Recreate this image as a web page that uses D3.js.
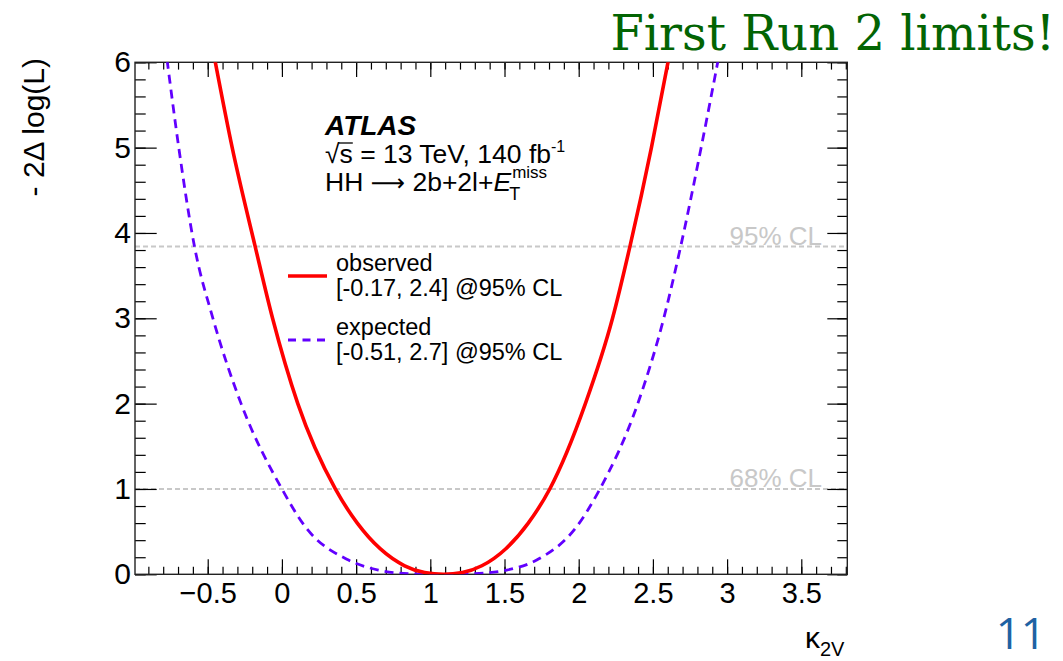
<!DOCTYPE html>
<html>
<head>
<meta charset="utf-8">
<script src="https://cdn.jsdelivr.net/npm/d3@7"></script>
<style>
  body { margin: 0; background: #fff; }
  svg { display: block; font-family: "Liberation Sans", Arial, sans-serif; }
</style>
</head>
<body>
<svg id="chart" width="1063" height="661"></svg>
<script>
// -2 delta log(L) scans vs kappa_2V
const obsKappa = [-0.452, -0.335, -0.18, -0.063, 0.107, 0.36, 0.508, 0.662, 0.827, 0.962, 1.09, 1.216, 1.347, 1.509, 1.66, 1.805, 2.045, 2.228, 2.345, 2.49, 2.605];
const obsNll   = [6.03, 5.0, 3.84, 3.0, 2.0, 1.0, 0.6, 0.3, 0.1, 0.02, 0.0, 0.02, 0.1, 0.3, 0.6, 1.0, 2.0, 3.0, 3.84, 5.0, 6.03];
const expKappa = [-0.774, -0.695, -0.589, -0.465, -0.275, 0.0, 0.157, 0.449, 0.65, 0.85, 1.07, 1.29, 1.515, 1.717, 1.986, 2.143, 2.398, 2.573, 2.687, 2.825, 2.94];
const expNll   = [6.03, 5.0, 3.84, 3.0, 2.0, 1.0, 0.558, 0.167, 0.05, 0.008, 0.0, 0.008, 0.05, 0.167, 0.558, 1.0, 2.0, 3.0, 3.84, 5.0, 6.03];

const xMajorTicks = [-0.5, 0, 0.5, 1, 1.5, 2, 2.5, 3, 3.5];
const xMinorTicks = d3.range(-9, 39).map(i => i / 10);
const yMajorTicks = [0, 1, 2, 3, 4, 5, 6];
const yMinorTicks = d3.range(0, 31).map(i => i / 5);

const clLevels = [1, 3.84];
const clLabels = ['68% CL', '95% CL'];
const legendNames = ['observed', 'expected'];
const legendIntervals = ['[-0.17, 2.4] @95% CL', '[-0.51, 2.7] @95% CL'];

const svg = d3.select('#chart');
const x = d3.scaleLinear().domain([-0.99, 3.81]).range([135, 847.3]);
const y = d3.scaleLinear().domain([0, 6]).range([574.3, 62.3]);
const [x0, x1] = x.range();
const [y0, y1] = y.range();

svg.append('defs').append('clipPath').attr('id', 'plot')
  .append('rect')
  .attr('x', x0).attr('y', y1)
  .attr('width', x1 - x0).attr('height', y0 - y1);

// confidence level reference lines
const cl = svg.append('g');
cl.selectAll('line').data(clLevels).join('line')
  .attr('x1', x0).attr('x2', x1)
  .attr('y1', d => y(d)).attr('y2', d => y(d))
  .attr('stroke', '#c8c8c8')
  .attr('stroke-width', 2)
  .attr('stroke-dasharray', '5,3');
cl.selectAll('text').data(clLevels).join('text')
  .attr('x', 822).attr('y', d => y(d) - 2)
  .attr('text-anchor', 'end')
  .attr('font-size', 26)
  .attr('fill', '#c8c8c8')
  .text((d, i) => clLabels[i]);

// axes, ROOT style: ticks on all four sides pointing inward
function axisGroup(axis, transform) {
  const g = svg.append('g')
    .attr('transform', transform)
    .call(axis)
    .attr('font-family', null)
    .attr('font-size', null);
  g.select('.domain').remove();
  g.selectAll('.tick line').attr('stroke', '#000').attr('stroke-width', 1.2);
  return g;
}
const fmt = d3.format('');

axisGroup(d3.axisBottom(x).tickValues(xMinorTicks).tickSize(-7.5).tickFormat(''), `translate(0,${y0})`);
axisGroup(d3.axisBottom(x).tickValues(xMajorTicks).tickSize(-15).tickPadding(8).tickFormat(fmt), `translate(0,${y0})`)
  .selectAll('text').attr('font-size', 29).attr('fill', '#000');

axisGroup(d3.axisTop(x).tickValues(xMinorTicks).tickSize(-7.3).tickFormat(''), `translate(0,${y1})`);
axisGroup(d3.axisTop(x).tickValues(xMajorTicks).tickSize(-14.7).tickFormat(''), `translate(0,${y1})`);

axisGroup(d3.axisLeft(y).tickValues(yMinorTicks).tickSize(-10.7).tickFormat(''), `translate(${x0},0)`);
axisGroup(d3.axisLeft(y).tickValues(yMajorTicks).tickSize(-21.7).tickPadding(4).tickFormat(fmt), `translate(${x0},0)`)
  .selectAll('text').attr('font-size', 30).attr('fill', '#000');

axisGroup(d3.axisRight(y).tickValues(yMinorTicks).tickSize(-10).tickFormat(''), `translate(${x1},0)`);
axisGroup(d3.axisRight(y).tickValues(yMajorTicks).tickSize(-20).tickFormat(''), `translate(${x1},0)`);

svg.append('rect')
  .attr('x', x0).attr('y', y1)
  .attr('width', x1 - x0).attr('height', y0 - y1)
  .attr('fill', 'none')
  .attr('stroke', '#222')
  .attr('stroke-width', 1.4);

// likelihood curves
const line = d3.line()
  .x(d => x(d[0]))
  .y(d => y(d[1]))
  .curve(d3.curveMonotoneX);

const plot = svg.append('g').attr('clip-path', 'url(#plot)');
plot.append('path')
  .datum(d3.zip(expKappa, expNll))
  .attr('d', line)
  .attr('fill', 'none')
  .attr('stroke', '#6200ff')
  .attr('stroke-width', 2.8)
  .attr('stroke-dasharray', '9,6');
plot.append('path')
  .datum(d3.zip(obsKappa, obsNll))
  .attr('d', line)
  .attr('fill', 'none')
  .attr('stroke', '#ff0000')
  .attr('stroke-width', 3.6);

// legend
const legendStyles = [
  {stroke: '#ff0000', width: 3.6, dash: null},
  {stroke: '#6200ff', width: 2.8, dash: '8,6.5'}
];
const legendY = [276, 340];
const leg = svg.append('g');
legendNames.forEach((name, i) => {
  leg.append('line')
    .attr('x1', 288).attr('x2', 327)
    .attr('y1', legendY[i]).attr('y2', legendY[i])
    .attr('stroke', legendStyles[i].stroke)
    .attr('stroke-width', legendStyles[i].width)
    .attr('stroke-dasharray', legendStyles[i].dash);
  leg.append('text')
    .attr('x', 336).attr('y', legendY[i] - 5.5)
    .attr('font-size', 23.5)
    .text(name);
  leg.append('text')
    .attr('x', 336).attr('y', legendY[i] + 19.5)
    .attr('font-size', 23.5)
    .text(legendIntervals[i]);
});

// ATLAS label block
svg.append('text')
  .attr('x', 325).attr('y', 135)
  .attr('font-size', 28)
  .attr('font-weight', 'bold')
  .attr('font-style', 'italic')
  .text('ATLAS');

const lumi = svg.append('text')
  .attr('x', 325).attr('y', 163)
  .attr('font-size', 26.5);
lumi.append('tspan').text('√s = 13 TeV, 140 fb');
lumi.append('tspan').attr('font-size', 16).attr('dy', -11).text('-1');
{
  const node = lumi.node();
  const p = node.getStartPositionOfChar(1);
  const w = node.getSubStringLength(1, 1);
  svg.append('line')
    .attr('x1', p.x - 1).attr('x2', p.x + w)
    .attr('y1', 163 - 20).attr('y2', 163 - 20)
    .attr('stroke', '#000').attr('stroke-width', 1.3);
}

const proc = svg.append('text')
  .attr('x', 325).attr('y', 191)
  .attr('font-size', 26.5);
proc.append('tspan').text('HH ');
proc.append('tspan').attr('font-family', '"DejaVu Sans", sans-serif').attr('font-size', 24).text('⟶');
proc.append('tspan').text(' 2b+2l+');
proc.append('tspan').attr('font-style', 'italic').text('E');
{
  const end = 325 + proc.node().getComputedTextLength();
  svg.append('text')
    .attr('x', end + 1).attr('y', 178)
    .attr('font-size', 17)
    .text('miss');
  svg.append('text')
    .attr('x', end - 2).attr('y', 200)
    .attr('font-size', 18)
    .text('T');
}

// axis titles
svg.append('text')
  .attr('transform', 'translate(44,58) rotate(-90)')
  .attr('text-anchor', 'end')
  .attr('font-size', 30)
  .text('- 2Δ log(L)');

const xt = svg.append('text')
  .attr('x', 805).attr('y', 648)
  .attr('font-size', 30)
  .text('κ');
xt.append('tspan').attr('font-size', 20).attr('dy', 8).text('2V');

// slide decorations
svg.append('text')
  .attr('x', 1055).attr('y', 50)
  .attr('text-anchor', 'end')
  .attr('font-family', '"DejaVu Serif", serif')
  .attr('font-size', 48)
  .attr('fill', '#036403')
  .text('First Run 2 limits!');

svg.append('text')
  .attr('x', 1046).attr('y', 649)
  .attr('text-anchor', 'end')
  .attr('font-family', '"Open Sans", sans-serif')
  .attr('font-size', 44)
  .attr('fill', '#1f62a3')
  .text('11');
</script>
</body>
</html>
